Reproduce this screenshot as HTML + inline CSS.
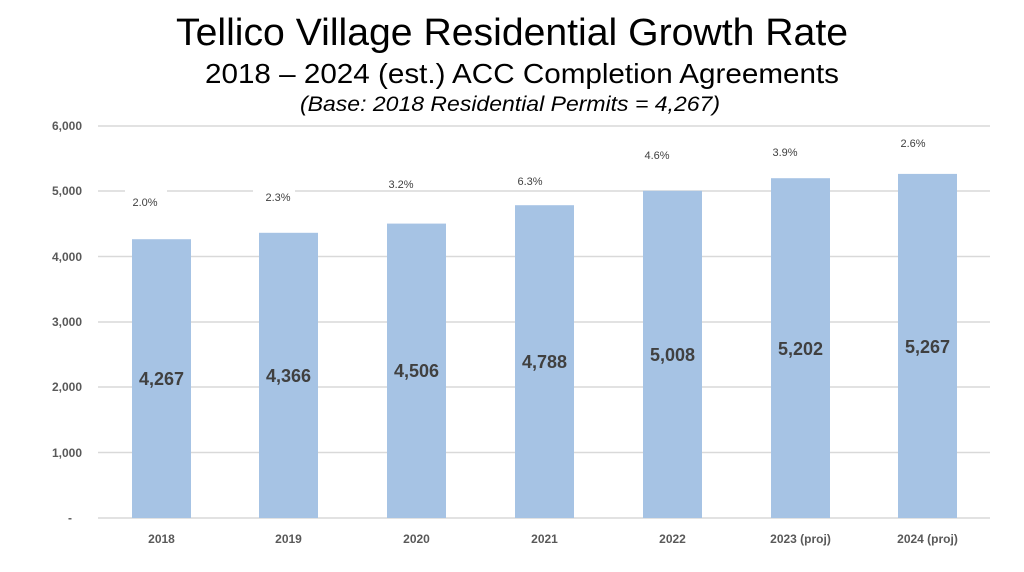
<!DOCTYPE html>
<html><head><meta charset="utf-8"><style>
html,body{margin:0;padding:0;background:#fff;}
svg{display:block;font-family:"Liberation Sans",sans-serif;}
</style></head><body>
<svg width="1024" height="572" viewBox="0 0 1024 572">
<text x="512" y="45" text-anchor="middle" font-size="38" textLength="672" lengthAdjust="spacingAndGlyphs" fill="#000">Tellico Village Residential Growth Rate</text>
<text x="522" y="83" text-anchor="middle" font-size="28" textLength="634" lengthAdjust="spacingAndGlyphs" fill="#000">2018 – 2024 (est.) ACC Completion Agreements</text>
<text x="510" y="111" text-anchor="middle" font-size="21" font-style="italic" textLength="420" lengthAdjust="spacingAndGlyphs" fill="#000">(Base: 2018 Residential Permits = 4,267)</text>
<g stroke="#d9d9d9" stroke-width="1.5">
<line x1="98" x2="990" y1="126" y2="126"/><line x1="98" x2="990" y1="191" y2="191"/>
<line x1="98" x2="990" y1="256.5" y2="256.5"/><line x1="98" x2="990" y1="322" y2="322"/>
<line x1="98" x2="990" y1="387" y2="387"/><line x1="98" x2="990" y1="452.5" y2="452.5"/>
<line x1="98" x2="990" y1="518" y2="518"/>
</g>
<g font-size="12" font-weight="bold" fill="#595959" text-anchor="end">
<text x="82" y="130">6,000</text><text x="82" y="195">5,000</text><text x="82" y="261">4,000</text>
<text x="82" y="326">3,000</text><text x="82" y="391">2,000</text><text x="82" y="457">1,000</text>
<text x="72" y="522">-</text>
</g>
<g fill="#a6c3e4">
<rect x="132" y="239.2" width="59" height="278.8"/>
<rect x="259" y="232.8" width="59" height="285.2"/>
<rect x="387" y="223.6" width="59" height="294.4"/>
<rect x="515" y="205.2" width="59" height="312.8"/>
<rect x="643" y="190.8" width="59" height="327.2"/>
<rect x="771" y="178.2" width="59" height="339.8"/>
<rect x="898" y="173.9" width="59" height="344.1"/>
</g>
<g font-size="18" font-weight="bold" fill="#404040" text-anchor="middle">
<text x="161.5" y="385">4,267</text><text x="288.5" y="382">4,366</text><text x="416.5" y="377">4,506</text>
<text x="544.5" y="368">4,788</text><text x="672.5" y="361">5,008</text><text x="800.5" y="355">5,202</text>
<text x="927.5" y="353">5,267</text>
</g>
<g font-size="11" fill="#404040" text-anchor="middle">
<rect x="125" y="188" width="42" height="18" fill="#fff"/><text x="145" y="206">2.0%</text>
<rect x="253" y="184" width="42" height="18" fill="#fff"/><text x="278" y="201">2.3%</text>
<text x="401" y="188">3.2%</text><text x="530" y="185">6.3%</text>
<text x="657" y="159">4.6%</text><text x="785" y="156">3.9%</text><text x="913" y="147">2.6%</text>
</g>
<g font-size="12" font-weight="bold" fill="#595959" text-anchor="middle">
<text x="161.5" y="543">2018</text><text x="288.5" y="543">2019</text><text x="416.5" y="543">2020</text>
<text x="544.5" y="543">2021</text><text x="672.5" y="543">2022</text><text x="800.5" y="543">2023 (proj)</text>
<text x="927.5" y="543">2024 (proj)</text>
</g>
</svg>
</body></html>
